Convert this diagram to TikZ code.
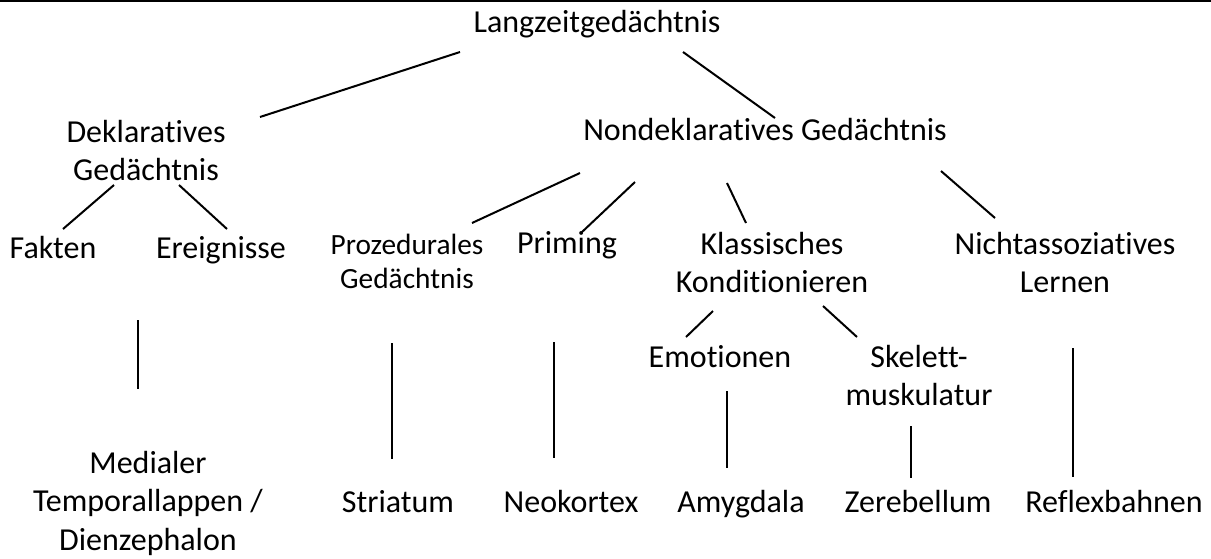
\documentclass[tikz,border=0pt]{standalone}
\usepackage{fontspec}
\setmainfont{Carlito}[Ligatures={NoCommon}]
\usetikzlibrary{calc}
\tikzset{
  lbl/.style={inner sep=0pt, outer sep=0pt, anchor=base, font=\fontsize{24}{29}\selectfont},
  lblsmall/.style={inner sep=0pt, outer sep=0pt, anchor=base, font=\fontsize{22}{26}\selectfont},
  conn/.style={line width=1.5pt, line cap=butt},
  rule/.style={line width=1.5pt}
}
\newcommand{\mlines}[1]{\begin{tabular}[t]{@{}c@{}}#1\end{tabular}}
\begin{document}
\begin{tikzpicture}[x=0.75pt, y=-0.75pt]
  \fill[white] (0,0) rectangle (1211,558);
  \useasboundingbox (0,0) rectangle (1211,558);
  \draw[rule] (0,1) -- (1211,1);

  % nodes
  \node[lbl] (lang) at (597,32) {Langzeitgedächtnis};
  \node[lbl] (dekl) at (146,142) {\mlines{Deklaratives\\Gedächtnis}};
  \node[lbl] (nondekl) at (765,140) {Nondeklaratives Gedächtnis};
  \node[lbl] (fakten) at (53,258) {Fakten};
  \node[lbl] (ereig) at (221,258) {Ereignisse};
  \node[lblsmall] (proz) at (407,254) {\mlines{Prozedurales\\Gedächtnis}};
  \node[lbl] (priming) at (567,253) {Priming};
  \node[lbl] (klass) at (772,254) {\mlines{Klassisches\\Konditionieren}};
  \node[lbl] (nicht) at (1065,254) {\mlines{Nichtassoziatives\\Lernen}};
  \node[lbl] (emo) at (720,367) {Emotionen};
  \node[lbl] (skel) at (919,367) {\mlines{Skelett-\\muskulatur}};
  \node[lbl] (medial) at (148,473) {\mlines{Medialer\\Temporallappen /\\Dienzephalon}};
  \node[lbl] (striatum) at (398,512) {Striatum};
  \node[lbl] (neo) at (571,512) {Neokortex};
  \node[lbl] (amyg) at (741,512) {Amygdala};
  \node[lbl] (zere) at (918,512) {Zerebellum};
  \node[lbl] (reflex) at (1114,512) {Reflexbahnen};

  % connectors
  \draw[conn] ($(lang.base)+(-137,20)$) -- ($(dekl.base)+(114,-25)$);
  \draw[conn] ($(lang.base)+(86,20)$) -- ($(nondekl.base)+(10,-22)$);
  \draw[conn] ($(dekl.base)+(-32,43)$) -- ($(fakten.base)+(10,-29)$);
  \draw[conn] ($(dekl.base)+(33,43)$) -- ($(ereig.base)+(6,-29)$);
  \draw[conn] ($(nondekl.base)+(-185,33)$) -- ($(proz.base)+(65,-31)$);
  \draw[conn] ($(nondekl.base)+(-130,42)$) -- ($(priming.base)+(15,-21)$);
  \draw[conn] ($(nondekl.base)+(-38,43)$) -- ($(klass.base)+(-26,-31)$);
  \draw[conn] ($(nondekl.base)+(176,31)$) -- ($(nicht.base)+(-70,-36)$);
  \draw[conn] ($(dekl.base)+(-8,178)$) -- ($(medial.base)+(-10,-84)$);
  \draw[conn] ($(proz.base)+(-15,89)$) -- ($(striatum.base)+(-6,-53)$);
  \draw[conn] ($(priming.base)+(-13,89)$) -- ($(neo.base)+(-17,-54)$);
  \draw[conn] ($(klass.base)+(-59,57)$) -- ($(emo.base)+(-34,-30)$);
  \draw[conn] ($(klass.base)+(51,52)$) -- ($(skel.base)+(-62,-30)$);
  \draw[conn] ($(emo.base)+(7,24)$) -- ($(amyg.base)+(-14,-44)$);
  \draw[conn] ($(skel.base)+(-8,59)$) -- ($(zere.base)+(-7,-34)$);
  \draw[conn] ($(nicht.base)+(8,94)$) -- ($(reflex.base)+(-41,-35)$);
\end{tikzpicture}
\end{document}
